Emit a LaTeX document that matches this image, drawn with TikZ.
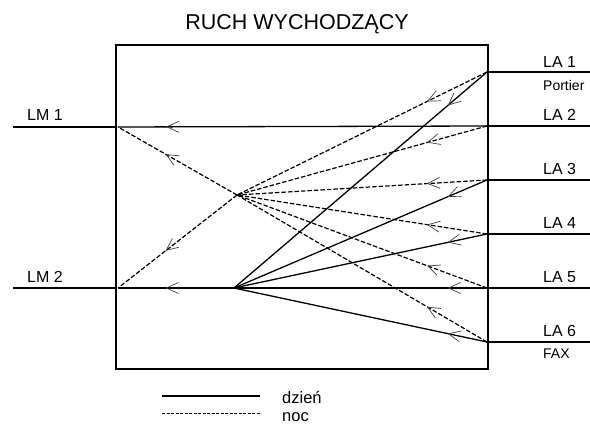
\documentclass[tikz,border=0pt]{standalone}
\usepackage{fontspec}
\setmainfont{Liberation Sans}
\usetikzlibrary{arrows.meta,decorations.markings}
\begin{document}
\begin{tikzpicture}[x=1pt,y=-1pt,
  wire/.style={line width=1.3pt},
  nightwire/.style={line width=1.2pt,dash pattern=on 4.5pt off 2pt},
  frame/.style={line width=1.8pt},
  chev/.style={postaction={decorate},decoration={markings,
      mark=at position #1 with {\arrow{Straight Barb[length=12pt,width=11pt,line width=0.7pt,color=black!75]}}}},
  lbl/.style={font=\fontsize{16}{16}\selectfont,anchor=west,inner sep=0pt},
  sublbl/.style={font=\fontsize{14}{14}\selectfont,anchor=west,inner sep=0pt},
  leg/.style={font=\fontsize{16.5}{16.5}\selectfont,anchor=base west,inner sep=0pt},
]
\useasboundingbox (0,0) rectangle (590,425);
\fill[white] (0,0) rectangle (590,425);

\node[font=\fontsize{21.5}{21.5}\selectfont,inner sep=0pt] (title) at (297,24) {RUCH WYCHODZĄCY};

% box
\draw[frame] (116,45) rectangle (488,369);

% endpoints
\coordinate (a1) at (487,72);
\coordinate (a2) at (487,126);
\coordinate (a3) at (487,180);
\coordinate (a4) at (487,234);
\coordinate (a5) at (487,288);
\coordinate (a6) at (487,342);
\coordinate (a1o) at (590,72);
\coordinate (a2o) at (590,126);
\coordinate (a3o) at (590,180);
\coordinate (a4o) at (590,234);
\coordinate (a5o) at (590,288);
\coordinate (a6o) at (590,342);
\coordinate (m1) at (118,127);
\coordinate (m2) at (118,288);
\coordinate (m1o) at (13,127);
\coordinate (m2o) at (13,288);
\coordinate (m1b) at (116,127);
\coordinate (m2b) at (116,288);
\coordinate (n) at (237,195);
\coordinate (d) at (234,288);

% outside lines
\foreach \i in {1,...,6} \draw[wire] (a\i) -- (a\i o);
\draw[wire] (m1o) -- (m1b);
\draw[wire] (m2o) -- (m2b);

% labels
\node[lbl] (la1) at (543,62) {LA 1};
\node[sublbl] (port) at (543,85) {Portier};
\node[lbl] (la2) at (543,115) {LA 2};
\node[lbl] (la3) at (543,169) {LA 3};
\node[lbl] (la4) at (543,223) {LA 4};
\node[lbl] (la5) at (543,277) {LA 5};
\node[lbl] (la6) at (543,331) {LA 6};
\node[sublbl] (fax) at (543,354) {FAX};
\node[lbl] (lm1) at (27,115) {LM 1};
\node[lbl] (lm2) at (27,277) {LM 2};

% day (solid)
\draw[wire,chev=0.87] (a2) -- (m1);
\draw[wire,chev=0.155] (a1) -- (d);
\draw[wire,chev=0.155] (a3) -- (d);
\draw[wire,chev=0.155] (a4) -- (d);
\draw[wire,chev=0.155] (a5) -- (d);
\draw[wire,chev=0.155] (a6) -- (d);
\draw[wire,chev=0.59] (d) -- (m2);

% night (dashed)
\foreach \i in {1,...,6} \draw[nightwire,chev=0.24] (a\i) -- (n);
\draw[nightwire,chev=0.6] (n) -- (m1);
\draw[nightwire,chev=0.6] (n) -- (m2);

% legend
\coordinate (ls1) at (162,396);
\coordinate (le1) at (260,396);
\coordinate (ls2) at (162,413);
\coordinate (le2) at (260,413);
\draw[line width=1.1pt] (ls1) -- (le1);
\draw[line width=0.9pt,dash pattern=on 3pt off 1.5pt] (ls2) -- (le2);
\node[leg] (day) at (282,403) {dzień};
\node[leg] (night) at (282,421) {noc};
\end{tikzpicture}
\end{document}
